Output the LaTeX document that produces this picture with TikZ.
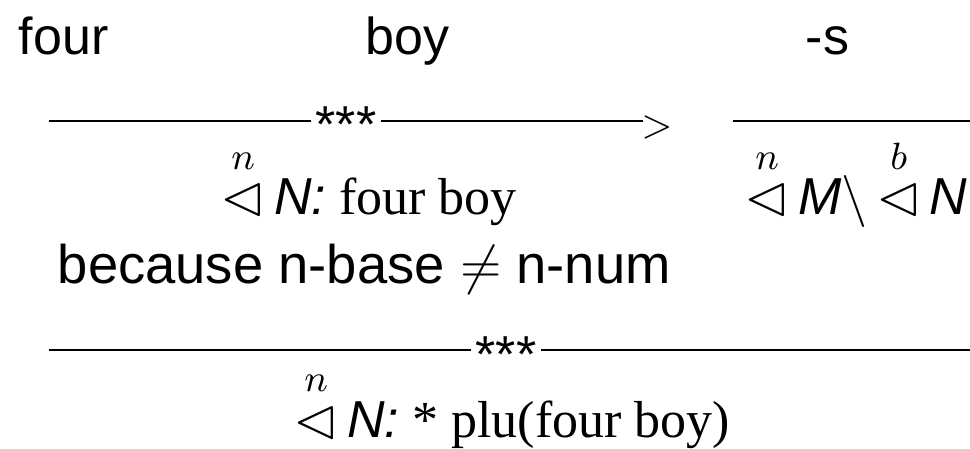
\RequirePackage{fix-cm}
\documentclass[tikz,border=0pt]{standalone}
\usepackage{amsmath}
\usepackage{latexsym}
\usepackage[no-math]{fontspec}
\setmainfont{Liberation Serif}
\setsansfont{Liberation Sans}
\newcommand\trin[1]{{\fontsize{14.4}{16}\selectfont$\overset{\hbox{\fontsize{9.5}{11}\selectfont$#1$}\rule[-2pt]{0pt}{0pt}}{\lhd}$}}
\begin{document}
\begin{tikzpicture}[x=0.25pt,y=-0.25pt,
  lbl/.style={inner sep=0pt, anchor=base west, font=\fontsize{13}{15.6}\selectfont\sffamily},
  frm/.style={inner sep=0pt, anchor=base west, font=\fontsize{13}{15.6}\selectfont},
  stars/.style={inner xsep=1pt, inner ysep=0pt, anchor=base, font=\fontsize{13}{15.6}\selectfont\sffamily},
  rulel/.style={line width=0.5pt}]
\useasboundingbox (0,0) rectangle (970,448);
% words
\node[lbl] (four) at (18,55) {four};
\node[lbl] (boy) at (365,55) {boy};
\node[lbl] (suf) at (805,55) {-s};
% top rule with arrow
\coordinate (t1) at (49,121);
\coordinate (t2) at (643,121);
\node[stars] (st1) at (346,143) {***};
\draw[rulel] (t1) -- (t1 -| st1.west);
\draw[rulel] (t1 -| st1.east) -- (t2);
\node[inner sep=0pt, font=\fontsize{10}{12}\selectfont] (gt) at (657,127.5) {$>$};
\coordinate (r1) at (733,121);
\coordinate (r2) at (975,121);
\draw[rulel] (r1) -- (r2);
% middle formulas
\node[frm] (f1) at (220,215) {\trin{n}\,\textsf{\itshape N:} four boy};
\node[frm] (f2) at (744,215) {\trin{n}\,\textsf{\itshape M}$\backslash$\,\trin{b}\,\textsf{\itshape N}};
\node[lbl, font=\fontsize{13.6}{16}\selectfont\sffamily] (bec) at (57,283) {because n-base $\neq$ n-num};
% bottom rule
\coordinate (b1) at (49,350);
\coordinate (b2) at (975,350);
\node[stars] (st2) at (506,372) {***};
\draw[rulel] (b1) -- (b1 -| st2.west);
\draw[rulel] (b1 -| st2.east) -- (b2);
\node[frm] (f3) at (293,437) {\trin{n}\,\textsf{\itshape N:} * plu(four boy)};
\end{tikzpicture}
\end{document}
